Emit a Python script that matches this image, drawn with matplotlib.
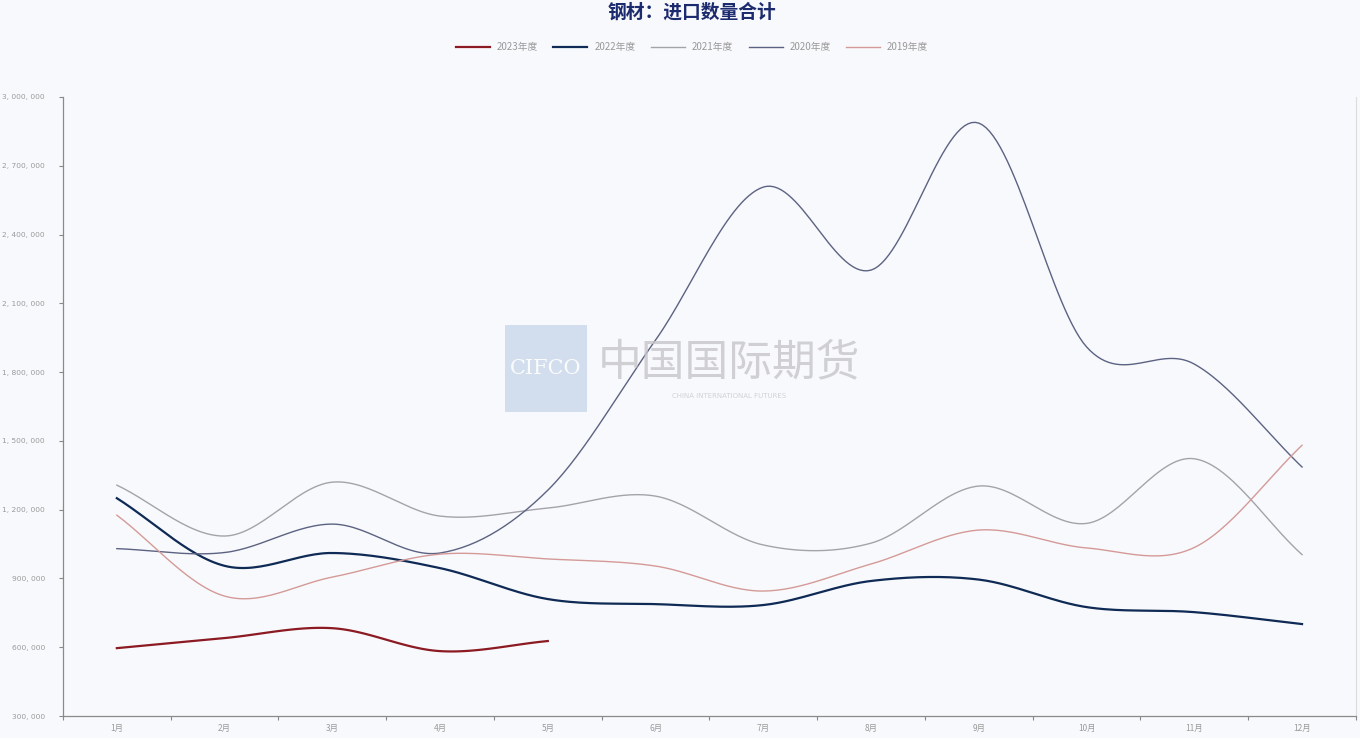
import numpy as np
import matplotlib
matplotlib.use("Agg")
from matplotlib import pyplot as plt
from matplotlib.patches import Rectangle

plt.rcParams['font.family'] = ['Noto Sans CJK SC', 'DejaVu Sans']

months = ["1月", "2月", "3月", "4月", "5月", "6月", "7月", "8月", "9月", "10月", "11月", "12月"]
y2023 = [596000, 640000, 683000, 583000, 627000]
y2022 = [1250000, 955000, 1011000, 945000, 810000, 788000, 784000, 889000, 895000, 775000, 753000, 701000]
y2021 = [1307000, 1085000, 1320000, 1172000, 1207000, 1259000, 1046000, 1054000, 1303000, 1140000, 1422000, 1004000]
y2020 = [1030000, 1013000, 1137000, 1011000, 1285000, 1940000, 2607000, 2245000, 2886000, 1910000, 1835000, 1386000]
y2019 = [1176000, 823000, 906000, 1006000, 985000, 954000, 845000, 963000, 1111000, 1033000, 1035000, 1481000]

labels = ["2023年度", "2022年度", "2021年度", "2020年度", "2019年度"]
colors = ["#8b1a22", "#0e2a55", "#a3a3aa", "#5c6282", "#d49a98"]
widths = [1.6, 1.6, 1.0, 1.0, 1.0]


def smooth(y, n=30):
    # catmull-rom through the monthly points
    y = np.asarray(y, dtype=float)
    x = np.arange(1, len(y) + 1, dtype=float)
    p = np.concatenate([[2 * y[0] - y[1]], y, [2 * y[-1] - y[-2]]])
    xs, ys = [], []
    for i in range(len(y) - 1):
        t = np.linspace(0, 1, n, endpoint=False)
        p0, p1, p2, p3 = p[i], p[i + 1], p[i + 2], p[i + 3]
        v = 0.5 * ((2 * p1) + (-p0 + p2) * t + (2 * p0 - 5 * p1 + 4 * p2 - p3) * t**2
                   + (-p0 + 3 * p1 - 3 * p2 + p3) * t**3)
        xs.append(x[i] + t)
        ys.append(v)
    xs.append([x[-1]])
    ys.append([y[-1]])
    return np.concatenate(xs), np.concatenate(ys)


bg = "#f8f9fc"
fig = plt.figure(figsize=(13.6, 7.38), dpi=100, facecolor=bg)
ax = fig.add_axes([0.0463, 0.0298, 0.9507, 0.8388], facecolor=bg)

for data, lab, c, w in zip([y2023, y2022, y2021, y2020, y2019], labels, colors, widths):
    xs, ys = smooth(data)
    ax.plot(xs, ys, color=c, linewidth=w, label=lab, zorder=3)

ax.set_xlim(0.5, 12.5)
ax.set_ylim(300000, 3000000)
yt = np.arange(300000, 3000001, 300000)
ax.set_yticks(yt)
ax.set_yticklabels(["{:,}".format(v).replace(",", ", ") for v in yt],
                   fontsize=5.4, color="#9a9a9a", family="DejaVu Sans")
ax.set_xticks(np.arange(0.5, 12.6, 1))
ax.set_xticklabels([])
ax.set_xticks(np.arange(1, 13), minor=True)
ax.set_xticklabels(months, minor=True, fontsize=6, color="#9a9a9a")
ax.tick_params(axis="x", which="minor", length=0, pad=6)
ax.tick_params(axis="x", which="major", length=3, color="#888888")
ax.tick_params(axis="y", length=3, color="#888888", pad=10)

for s in ["left", "bottom"]:
    ax.spines[s].set_color("#8a8a8a")
    ax.spines[s].set_linewidth(0.9)
ax.spines["right"].set_color("#dcdcdc")
ax.spines["top"].set_visible(False)

# watermark
fig.patches.append(Rectangle((505 / 1360, 1 - 412 / 738), 82 / 1360, 87 / 738,
                             transform=fig.transFigure, facecolor="#c9d8ea", alpha=0.8,
                             edgecolor="none", zorder=1))
fig.text(546 / 1360, 1 - 368 / 738, "CIFCO", fontsize=15, color="white", ha="center",
         va="center", family="DejaVu Serif", alpha=0.9)
fig.text(729 / 1360, 1 - 362 / 738, "中国国际期货", fontsize=31.5, color="#c6c6ca",
         ha="center", va="center", alpha=0.8)
fig.text(729 / 1360, 1 - 396 / 738, "CHINA INTERNATIONAL FUTURES", fontsize=5,
         color="#d2d2d6", ha="center", va="center", family="DejaVu Sans")

fig.text(692 / 1360, 1 - 12 / 738, "钢材：进口数量合计", fontsize=13.5, fontweight="bold",
         color="#1c2a6e", ha="center", va="center")
fig.legend(loc="center", bbox_to_anchor=(692 / 1360, 1 - 47 / 738), ncol=5, frameon=False,
           fontsize=7, handlelength=3.5, handletextpad=0.7, columnspacing=1.6,
           labelcolor="#999999")

plt.savefig("out.png", dpi=100, facecolor=bg)
